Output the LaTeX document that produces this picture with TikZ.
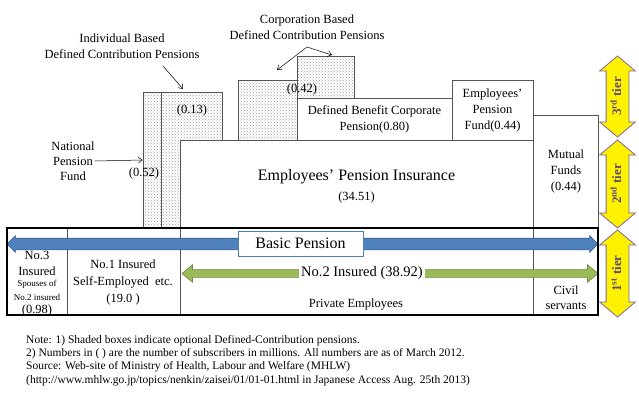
\documentclass[tikz,border=0pt]{standalone}
\usepackage{fontspec}
\setmainfont{Liberation Serif}
\usetikzlibrary{shapes.arrows,shapes.geometric,positioning,arrows.meta,patterns}
\definecolor{boxgray}{RGB}{85,85,85}
\definecolor{bpblue}{RGB}{79,129,189}
\definecolor{bpblueline}{RGB}{56,93,138}
\definecolor{nogreen}{RGB}{155,187,89}
\definecolor{nogreenline}{RGB}{113,137,63}
\definecolor{tierline}{RGB}{128,100,162}
\definecolor{tiertext}{RGB}{95,73,122}
\tikzstyle{block} = [rectangle, draw=boxgray, line width=0.8pt, fill=white, inner sep=0pt]
\tikzstyle{dcblock} = [rectangle, draw=boxgray, line width=0.8pt, pattern=crosshatch dots, pattern color=gray!75, inner sep=0pt]
\tikzstyle{cell} = [rectangle, draw=boxgray, line width=0.8pt, inner sep=0pt, minimum height=87]
\tikzstyle{txt} = [font=\fontsize{12.5}{16}\selectfont, align=center, inner sep=0pt]
\tikzstyle{pointer} = [line width=0.5pt, -{Straight Barb[length=4pt,width=6pt]}]
\tikzstyle{tier} = [double arrow, draw=tierline, line width=0.8pt, fill=yellow, rotate=90, minimum width=35, double arrow head extend=6.5, double arrow tip angle=100, inner xsep=0pt, inner ysep=5.5pt, text height=9pt, text depth=2pt, text=tiertext, font=\fontsize{13}{13}\selectfont\bfseries]

\begin{document}
\begin{tikzpicture}[x=1pt, y=-1pt]
	\useasboundingbox (0,0) rectangle (639,400);
	% optional DC boxes (shaded)
	\node[dcblock, minimum width=18, minimum height=136] (npf) at (152,160) {};
	\node[dcblock, minimum width=61, minimum height=136] (idc) at (191.5,160) {};
	\node[dcblock, minimum width=59, minimum height=60] (cdc) at (267.5,110) {};
	\node[dcblock, minimum width=57, minimum height=42] (cdc2) at (325.5,77) {};
	% 2nd and 3rd tier boxes
	\node[block, minimum width=155, minimum height=42] (dbp) at (374.5,119) {};
	\node[block, minimum width=81, minimum height=60] (epf) at (492.5,110) {};
	\node[block, minimum width=353, minimum height=88] (epi) at (356.5,184) {};
	\node[block, minimum width=65, minimum height=113] (mf) at (565.5,171.5) {};
	% 1st tier cells
	\node[cell, minimum width=60] (no3) at (37,271.5) {};
	\node[cell, minimum width=113] (no1) at (123.5,271.5) {};
	\node[cell, minimum width=353] (no2) at (356.5,271.5) {};
	\node[cell, minimum width=65] (civ) at (565.5,271.5) {};

	% texts
	\node[txt] (idclab) at (122,46) {Individual Based\\Defined Contribution Pensions};
	\node[txt] (cdclab) at (307,27.5) {Corporation Based\\Defined Contribution Pensions};
	\node[txt, font=\fontsize{12.5}{15}\selectfont] (npflab) at (73,161) {National\\Pension\\Fund};
	\node[txt] (n013) at (192,110) {(0.13)};
	\node[txt] (n052) at (144,173) {(0.52)};
	\node[txt] (n042) at (302,89) {(0.42)};
	\node[txt] (dbplab) at (dbp) {Defined Benefit Corporate\\Pension(0.80)};
	\node[txt] (epflab) at (epf) {Employees’\\Pension\\Fund(0.44)};
	\node[txt, font=\fontsize{16}{20}\selectfont] (epilab) at (356.5,177) {Employees’ Pension Insurance};
	\node[txt] (epinum) at (356.5,197) {(34.51)};
	\node[txt] (mflab) at (566,171.5) {Mutual\\Funds\\(0.44)};
	\node[txt, font=\fontsize{12.5}{17}\selectfont] (no1lab) at (123,282) {No.1 Insured\\Self-Employed~ etc.\\(19.0 )};
	\node[txt] (no2lab) at (356,305) {Private Employees};
	\node[txt, font=\fontsize{12.5}{15}\selectfont] (civlab) at (566,297.5) {Civil\\servants};
	\node[txt, font=\fontsize{12.5}{16}\selectfont] (no3a) at (37,263.5) {No.3\\Insured};
	\node[txt, font=\fontsize{9}{14}\selectfont] (no3b) at (37,290.5) {Spouses of\\No.2 insured};
	\node[txt] (no3c) at (37,310) {(0.98)};

	% pointers
	\coordinate (ia) at (163,66);
	\coordinate (ib) at (183,89);
	\coordinate (ca) at (307,47);
	\coordinate (cb) at (277,70);
	\coordinate (cc) at (332,55);
	\draw[pointer] (ia) -- (ib);
	\draw[pointer] (npflab.east) -- (npf.west);
	\draw[pointer] (ca) -- (cb);
	\draw[pointer] (ca) -- (cc);

	% basic pension and No.2 insured arrows
	\node[double arrow, draw=bpblueline, fill=bpblue, line width=0.6pt, minimum height=591, minimum width=16, double arrow head extend=2.5, inner xsep=0pt, inner ysep=5.5pt] (bp) at (302.5,244) {};
	\node[rectangle, draw=bpblue, line width=1pt, fill=white, minimum width=125, minimum height=25, font=\fontsize{16}{16}\selectfont] (bplab) at (300.5,243.5) {Basic Pension};
	\node[double arrow, draw=nogreenline, fill=nogreen, line width=0.6pt, minimum height=416, minimum width=17, double arrow head extend=5, double arrow tip angle=80, inner xsep=0pt, inner ysep=3.5pt] (n2) at (390,273.5) {};
	\node[fill=white, inner sep=2pt, font=\fontsize{14.5}{14.5}\selectfont] (n2lab) at (362,273) {No.2 Insured (38.92)};

	% 1st tier frame
	\node[rectangle, draw=black, line width=1.6pt, minimum width=591, minimum height=87, inner sep=0pt] (frame) at (302.5,271.5) {};

	% tiers
	\node[tier, minimum height=81] (t3) at (617.5,96.5) {3\textsuperscript{rd} tier};
	\node[tier, minimum height=88] (t2) at (617.5,184) {2\textsuperscript{nd} tier};
	\node[tier, minimum height=87] (t1) at (617.5,273.5) {1\textsuperscript{st} tier};

	% notes
	\node[anchor=north west, align=left, inner sep=0pt, font=\fontsize{11.5}{13.3}\selectfont] (note) at (26,335) {Note: 1) Shaded boxes indicate optional Defined-Contribution pensions.\\2) Numbers in ( ) are the number of subscribers in millions. All numbers are as of March 2012.\\Source: Web-site of Ministry of Health, Labour and Welfare (MHLW)\\(http://www.mhlw.go.jp/topics/nenkin/zaisei/01/01-01.html in Japanese Access Aug. 25th 2013)};
\end{tikzpicture}
\end{document}
